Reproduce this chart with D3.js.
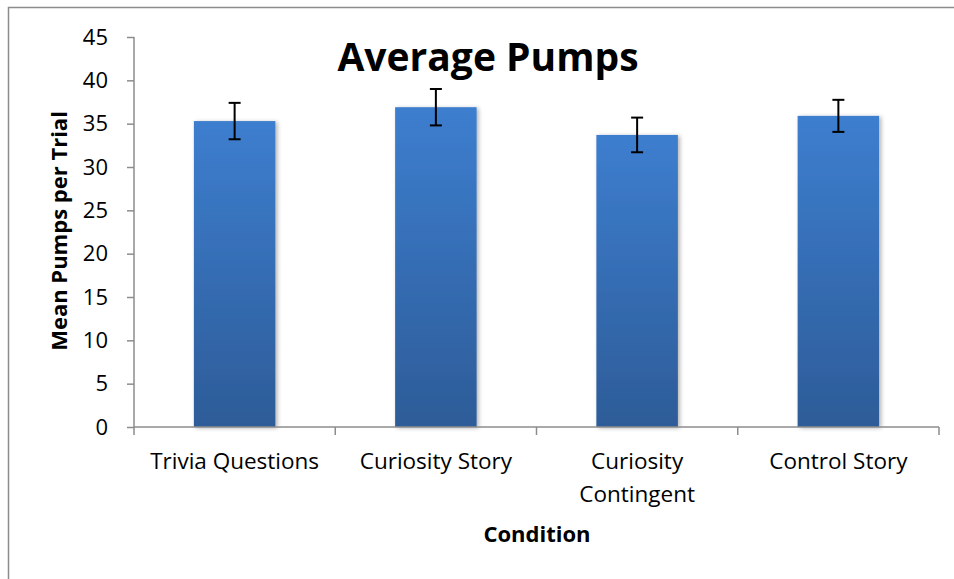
<!DOCTYPE html>
<html>
<head>
<meta charset="utf-8">
<script src="https://cdnjs.cloudflare.com/ajax/libs/d3/7.8.5/d3.min.js"></script>
<style>
  body { margin: 0; background: #fff; }
  svg { font-family: "Open Sans", sans-serif; }
</style>
</head>
<body>
<div class="chart"></div>
<script>
// Data
const categories = ["Trivia Questions", "Curiosity Story", "Curiosity Contingent", "Control Story"];
const means = [35.3, 36.9, 33.7, 35.9];
const errors = [2.1, 2.1, 2.0, 1.85];
const yTicks = [0, 5, 10, 15, 20, 25, 30, 35, 40, 45];

const W = 954, H = 579;
const margin = {top: 37, left: 134, right: 15, bottom: 152};
const width = W - margin.left - margin.right;
const height = H - margin.top - margin.bottom;

const root = d3.select(".chart").append("svg")
    .attr("width", W)
    .attr("height", H);

// outer chart border
root.append("rect")
    .attr("x", 8.5).attr("y", 7.5)
    .attr("width", W + 10).attr("height", H + 10)
    .attr("fill", "none")
    .attr("stroke", "#8c8c8c")
    .attr("stroke-width", 1.5);

const defs = root.append("defs");
const grad = defs.append("linearGradient")
    .attr("id", "barGrad")
    .attr("x1", 0).attr("y1", 0).attr("x2", 0).attr("y2", 1);
grad.append("stop").attr("offset", "0%").attr("stop-color", "#3d7ecf");
grad.append("stop").attr("offset", "100%").attr("stop-color", "#2d5c98");

const shadow = defs.append("filter").attr("id", "shadow")
    .attr("x", "-10%").attr("y", "-10%").attr("width", "130%").attr("height", "130%");
shadow.append("feDropShadow")
    .attr("dx", 2).attr("dy", 1).attr("stdDeviation", 2)
    .attr("flood-color", "#000").attr("flood-opacity", 0.3);

const svg = root.append("g")
    .attr("transform", `translate(${margin.left},${margin.top})`);

// Scales
const xScale = d3.scaleBand()
    .domain(categories)
    .range([0, width])
    .padding(0);

const yScale = d3.scaleLinear()
    .domain([0, 45])
    .range([height, 0]);

const barW = xScale.bandwidth() * 0.405;

// Bars
svg.selectAll(".bar")
    .data(categories)
    .enter().append("rect")
    .attr("class", "bar")
    .attr("x", d => xScale(d) + xScale.bandwidth() / 2 - barW / 2)
    .attr("y", (d, i) => yScale(means[i]))
    .attr("width", barW)
    .attr("height", (d, i) => height - yScale(means[i]))
    .attr("fill", "url(#barGrad)")
    .attr("filter", "url(#shadow)");

// Error bars
const eb = svg.selectAll(".err")
    .data(categories)
    .enter().append("g")
    .attr("class", "err")
    .attr("transform", d => `translate(${xScale(d) + xScale.bandwidth() / 2},0)`)
    .attr("stroke", "#000")
    .attr("stroke-width", 2);
eb.append("line")
    .attr("y1", (d, i) => yScale(means[i] + errors[i]))
    .attr("y2", (d, i) => yScale(means[i] - errors[i]));
eb.append("line")
    .attr("x1", -6).attr("x2", 6)
    .attr("y1", (d, i) => yScale(means[i] + errors[i]))
    .attr("y2", (d, i) => yScale(means[i] + errors[i]));
eb.append("line")
    .attr("x1", -6).attr("x2", 6)
    .attr("y1", (d, i) => yScale(means[i] - errors[i]))
    .attr("y2", (d, i) => yScale(means[i] - errors[i]));

// Axes
const yAxis = d3.axisLeft(yScale).tickValues(yTicks).tickSize(7).tickPadding(19);
const yG = svg.append("g").attr("class", "y-axis").call(yAxis);
yG.select(".domain").attr("stroke", "#8c8c8c").attr("stroke-width", 1.5).attr("d", `M0,${height}V0`);
yG.selectAll(".tick line").attr("stroke", "#8c8c8c").attr("stroke-width", 1.5);
yG.selectAll(".tick text").attr("font-size", 22).attr("fill", "#000")
    .attr("font-family", "'Open Sans', sans-serif");

const xG = svg.append("g").attr("class", "x-axis")
    .attr("transform", `translate(0,${height})`);
xG.append("line")
    .attr("x1", 0).attr("x2", width)
    .attr("stroke", "#8c8c8c").attr("stroke-width", 1.5);
xG.selectAll(".xt")
    .data(d3.range(categories.length + 1))
    .enter().append("line")
    .attr("x1", i => i * xScale.step()).attr("x2", i => i * xScale.step())
    .attr("y1", 0).attr("y2", 8)
    .attr("stroke", "#8c8c8c").attr("stroke-width", 1.5);

// Category labels (wrap long ones like Excel does)
const wrapped = {"Curiosity Contingent": ["Curiosity", "Contingent"]};
xG.selectAll(".xl")
    .data(categories)
    .enter().append("text")
    .attr("text-anchor", "middle")
    .attr("font-size", 22.5)
    .attr("fill", "#000")
    .each(function(d) {
        const lines = wrapped[d] || [d];
        lines.forEach((l, k) => {
            d3.select(this).append("tspan")
                .attr("x", xScale(d) + xScale.bandwidth() / 2)
                .attr("y", 42 + k * 33)
                .text(l);
        });
    });

// Titles
root.append("text")
    .attr("x", 488).attr("y", 71)
    .attr("text-anchor", "middle")
    .attr("font-size", 39)
    .attr("font-weight", "bold")
    .text("Average Pumps");

root.append("text")
    .attr("x", 537).attr("y", 542)
    .attr("text-anchor", "middle")
    .attr("font-size", 22)
    .attr("font-weight", "bold")
    .text("Condition");

root.append("text")
    .attr("transform", "translate(67,231) rotate(-90)")
    .attr("text-anchor", "middle")
    .attr("font-size", 22)
    .attr("font-weight", "bold")
    .text("Mean Pumps per Trial");
</script>
</body>
</html>
